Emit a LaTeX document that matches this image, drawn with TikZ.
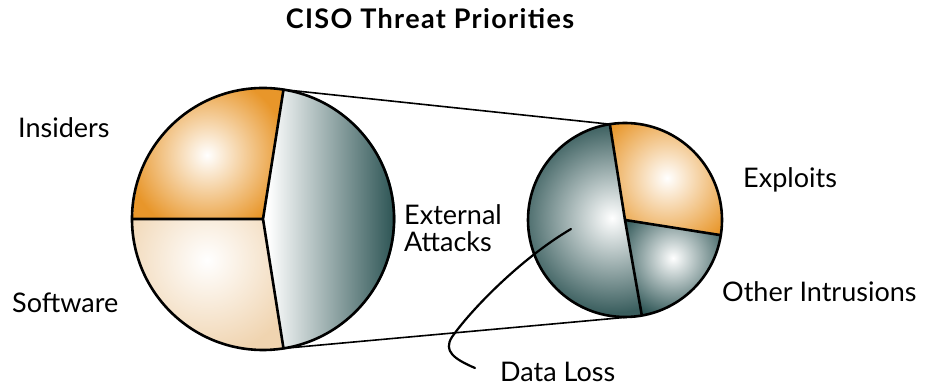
\documentclass[tikz,border=0pt]{standalone}
\usepackage{fontspec}
\setmainfont{Lato}
\usetikzlibrary{positioning}

\definecolor{slorange}{RGB}{232,150,42}
\definecolor{slpeach}{RGB}{240,212,176}
\definecolor{slteal}{RGB}{42,82,82}
\definecolor{slgrey}{RGB}{58,94,94}

\begin{document}
\begin{tikzpicture}[x=1pt,y=1pt,
  pie/.style={circle,inner sep=0,outer sep=0},
  pieline/.style={line width=2.6pt,line join=round},
  link/.style={line width=1.6pt},
  lbl/.style={anchor=base west,inner sep=0,font=\fontsize{27}{32}\selectfont}]
\useasboundingbox (0,0) rectangle (939,387);

\node[pie,minimum size=262pt] (big) at (263,168) {};
\node[pie,minimum size=194pt] (small) at (625,167) {};

% left pie
\begin{scope}
\clip (big.center) -- (big.81.5) arc[start angle=81.5,end angle=180,radius=131] -- cycle;
\fill[slorange] (100,150) rectangle (300,320);
\shade[inner color=white,outer color=slorange] (207,232) circle (80);
\end{scope}
\begin{scope}
\clip (big.center) -- (big.180) arc[start angle=180,end angle=278.4,radius=131] -- cycle;
\fill[slpeach] (100,20) rectangle (300,190);
\shade[inner color=white,outer color=slpeach] (207,127) circle (95);
\end{scope}
\begin{scope}
\clip (big.center) -- (big.-81.6) arc[start angle=-81.6,end angle=81.5,radius=131] -- cycle;
\shade[left color=white,right color=slteal] (268,30) rectangle (396,310);
\end{scope}

% right pie
\begin{scope}
\clip (small.center) -- (small.-9.4) arc[start angle=-9.4,end angle=99,radius=97] -- cycle;
\fill[slorange] (590,140) rectangle (740,280);
\shade[inner color=white,outer color=slorange] (667,209) circle (75);
\end{scope}
\begin{scope}
\clip (small.center) -- (small.-80) arc[start angle=-80,end angle=-9.4,radius=97] -- cycle;
\fill[slteal] (610,50) rectangle (740,190);
\shade[inner color=white,outer color=slteal] (673,129) circle (62);
\end{scope}
\begin{scope}
\clip (small.center) -- (small.99) arc[start angle=99,end angle=280,radius=97] -- cycle;
\fill[slgrey] (510,50) rectangle (660,280);
\shade[inner color=white,outer color=slgrey] (612,169) circle (95);
\end{scope}

\draw[pieline] (big.center) circle[radius=131];
\draw[pieline] (big.180) -- (big.center) -- (big.81.5) (big.center) -- (big.-81.6);
\draw[pieline] (small.center) circle[radius=97];
\draw[pieline] (small.99) -- (small.center) -- (small.-9.4) (small.center) -- (small.-80);

\draw[link] (big.81.5) -- (small.99);
\draw[link] (big.-81.6) -- (small.-85);

\node[anchor=base,inner sep=0,font=\fontsize{27}{32}\selectfont\bfseries\addfontfeatures{LetterSpace=5}] (title) at (430,358) {CISO Threat Priorities};
\node[lbl] (insiders) at (18,249) {Insiders};
\node[lbl] (software) at (12,74) {Software};
\node[lbl] (external) at (404,162) {External};
\node[lbl] (attacks) at (404,135) {Attacks};
\node[lbl] (exploits) at (743,199) {Exploits};
\node[lbl] (other) at (722,85) {Other Intrusions};
\node[lbl] (dataloss) at (500,5) {Data Loss};

\coordinate (dltip) at (571,158);
\coordinate (dlend) at ([xshift=-25pt,yshift=14pt]dataloss.base west);
\draw[line width=2.2pt,line cap=round] (dltip) .. controls (520,128) and (470,76) .. (452,50)
  .. controls (443,36) and (454,28) .. (dlend);
\end{tikzpicture}
\end{document}
